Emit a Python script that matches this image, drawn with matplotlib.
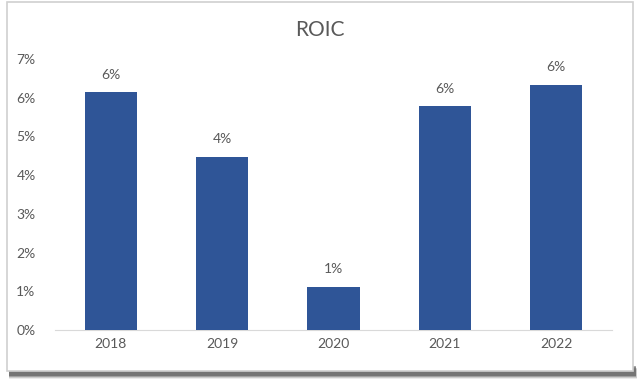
import matplotlib.pyplot as plt
from matplotlib.patches import Rectangle
from matplotlib.ticker import FuncFormatter

years = ['2018', '2019', '2020', '2021', '2022']
roic = [6.14, 4.47, 1.11, 5.78, 6.34]
labels = ['6%', '4%', '1%', '6%', '6%']

plt.rcParams['font.family'] = ['Lato', 'DejaVu Sans']
text_color = '#595959'
bar_color = '#2F5597'

fig = plt.figure(figsize=(6.4, 3.84), dpi=100)
W, H = 640, 384

# drop shadow under the chart frame
for i, a in enumerate([0.10, 0.18, 0.30, 0.45]):
    off = 4 - i
    fig.patches.append(Rectangle((9 / W, (384 - 372 - off - 3) / H),
                                 (626 + off * 0.5) / W, 10 / H,
                                 transform=fig.transFigure, facecolor='#404040',
                                 edgecolor='none', alpha=a, zorder=0))
fig.patches.append(Rectangle((7 / W, (384 - 371) / H), 626 / W, 369 / H,
                             transform=fig.transFigure, facecolor='white',
                             edgecolor='#d0d0d0', linewidth=1.2, zorder=1))

ax = fig.add_axes([55 / W, 1 - 330 / H, 557 / W, 271 / H])
ax.set_zorder(2)
ax.patch.set_alpha(0)
bars = ax.bar(years, roic, width=0.47, color=bar_color, zorder=3)
for b, lab in zip(bars, labels):
    ax.text(b.get_x() + b.get_width() / 2, b.get_height() + 0.3, lab,
            ha='center', va='bottom', fontsize=10, color=text_color)

ax.set_ylim(0, 7)
ax.set_xlim(-0.5, 4.5)
ax.set_yticks(range(8))
ax.yaxis.set_major_formatter(FuncFormatter(lambda v, p: f'{int(v)}%'))
for s in ['top', 'right', 'left']:
    ax.spines[s].set_visible(False)
ax.spines['bottom'].set_color('#d9d9d9')
ax.tick_params(axis='both', length=0, labelsize=10, labelcolor=text_color)
ax.tick_params(axis='y', pad=14)
ax.tick_params(axis='x', pad=6)

fig.text(0.5, 1 - 30 / H, 'ROIC', ha='center', va='center', fontsize=15,
         color=text_color)

fig.savefig('out.png', dpi=100, facecolor='white')
